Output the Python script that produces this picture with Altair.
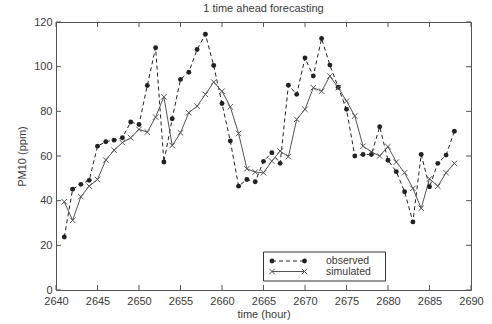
import altair as alt
import pandas as pd

hours = list(range(2641, 2689))
observed = [23.7, 45.1, 47.3, 49.1, 64.4, 66.4, 67.1, 68.2, 75.2, 74.1,
            91.6, 108.5, 57.3, 76.7, 94.3, 97.5, 107.7, 114.5, 100.5, 83.5,
            66.7, 46.5, 49.5, 48.5, 57.6, 61.5, 56.7, 91.7, 87.6, 103.9,
            95.8, 112.6, 100.7, 90.8, 80.9, 60.0, 60.7, 60.7, 73.1, 58.1,
            53.0, 44.0, 30.5, 60.7, 46.2, 56.7, 60.4, 71.1]
simulated = [39.5, 31.2, 41.8, 46.5, 49.5, 58.2, 62.6, 66.0, 68.2, 71.9,
             70.7, 77.4, 86.5, 64.7, 70.4, 79.4, 82.3, 87.6, 93.1, 89.0,
             82.0, 70.1, 54.3, 52.8, 52.5, 57.7, 62.2, 59.7, 76.4, 80.9,
             90.6, 89.0, 95.8, 90.6, 84.6, 77.9, 64.4, 61.8, 60.0, 64.2,
             57.3, 52.5, 45.5, 36.6, 49.8, 46.5, 52.5, 56.7]
x_ticks = list(range(2640, 2691, 5))
y_ticks = list(range(0, 121, 20))
legend_labels = ["observed", "simulated"]

W, H = 415, 268
FONT = "Liberation Sans"
TXT = "#3a3a3a"
OBS_C = "#222222"
SIM_C = "#555555"

df = pd.DataFrame({"hour": hours, "observed": observed, "simulated": simulated})
xs = alt.Scale(domain=[2640, 2690], nice=False, zero=False)
ys = alt.Scale(domain=[0, 120], nice=False)

xaxis = alt.Axis(values=x_ticks, tickSize=0, domain=False, grid=False,
                 labelPadding=5, title="time (hour)", titlePadding=2, format="d",
                 labelFlush=False)
yaxis = alt.Axis(values=y_ticks, tickSize=0, domain=False, grid=False,
                 labelPadding=4, title="PM10 (ppm)", titlePadding=6, format="d")

base = alt.Chart(df)
X = alt.X("hour:Q", scale=xs, axis=xaxis)

obs_line = base.mark_line(color=OBS_C, strokeDash=[4, 3], strokeWidth=1).encode(
    x=X, y=alt.Y("observed:Q", scale=ys, axis=yaxis))
obs_pts = base.mark_point(shape="circle", filled=True, size=24, color=OBS_C, opacity=1).encode(
    x=alt.X("hour:Q", scale=xs), y=alt.Y("observed:Q", scale=ys))
sim_line = base.mark_line(color=SIM_C, strokeWidth=1).encode(
    x=alt.X("hour:Q", scale=xs), y=alt.Y("simulated:Q", scale=ys))
XSHAPE = "M-1,-1L1,1M-1,1L1,-1"
sim_pts = base.mark_point(shape=XSHAPE, filled=False, size=30, color=SIM_C, strokeWidth=1, opacity=1).encode(
    x=alt.X("hour:Q", scale=xs), y=alt.Y("simulated:Q", scale=ys))

# inward ticks on all four sides
xt = alt.Chart(pd.DataFrame({"t": x_ticks}))
yt = alt.Chart(pd.DataFrame({"t": y_ticks}))
tick_style = dict(color="#555", strokeWidth=1)
xt_bot = xt.mark_rule(**tick_style).encode(x=alt.X("t:Q", scale=xs), y=alt.value(H), y2=alt.value(H - 5))
xt_top = xt.mark_rule(**tick_style).encode(x=alt.X("t:Q", scale=xs), y=alt.value(0), y2=alt.value(5))
yt_left = yt.mark_rule(**tick_style).encode(y=alt.Y("t:Q", scale=ys), x=alt.value(0), x2=alt.value(5))
yt_right = yt.mark_rule(**tick_style).encode(y=alt.Y("t:Q", scale=ys), x=alt.value(W), x2=alt.value(W - 5))

# legend
one = alt.Chart(pd.DataFrame({"a": [0]}))
lx0, lx1, ly0, ly1 = 207.5, 329.5, 230, 259
box = one.mark_rect(fill="white", stroke="#333", strokeWidth=1).encode(
    x=alt.value(lx0), x2=alt.value(lx1), y=alt.value(ly0), y2=alt.value(ly1))
rows = [239, 249.5]
sx0, sx1 = 216, 248.5
leg = []
obs_df = alt.Chart(pd.DataFrame({"label": [legend_labels[0]]}))
sim_df = alt.Chart(pd.DataFrame({"label": [legend_labels[1]]}))
leg.append(obs_df.mark_rule(color=OBS_C, strokeDash=[4, 3], strokeWidth=1).encode(
    x=alt.value(sx0), x2=alt.value(sx1), y=alt.value(rows[0])))
for sx in (sx0, sx1):
    leg.append(obs_df.mark_point(shape="circle", filled=True, size=24, color=OBS_C, opacity=1).encode(
        x=alt.value(sx), y=alt.value(rows[0])))
leg.append(sim_df.mark_rule(color=SIM_C, strokeWidth=1).encode(
    x=alt.value(sx0), x2=alt.value(sx1), y=alt.value(rows[1])))
for sx in (sx0, sx1):
    leg.append(sim_df.mark_point(shape=XSHAPE, filled=False, size=30, color=SIM_C, strokeWidth=1, opacity=1).encode(
        x=alt.value(sx), y=alt.value(rows[1])))
leg.append(obs_df.mark_text(align="left", baseline="middle", font=FONT, fontSize=10.5, color=TXT).encode(
    x=alt.value(270), y=alt.value(rows[0]), text="label:N"))
leg.append(sim_df.mark_text(align="left", baseline="middle", font=FONT, fontSize=10.5, color=TXT).encode(
    x=alt.value(270), y=alt.value(rows[1]), text="label:N"))

chart = alt.layer(
    obs_line, sim_line, obs_pts, sim_pts,
    xt_bot, xt_top, yt_left, yt_right,
    box, *leg
).properties(
    width=W, height=H,
    title=alt.TitleParams("1 time ahead forecasting", fontSize=11, fontWeight="normal",
                          color=TXT, font=FONT, offset=2, anchor="middle"),
    autosize=alt.AutoSizeParams(type="none"),
    padding={"left": 56, "top": 22, "right": 21, "bottom": 34},
    background="white",
).configure_view(
    stroke="#555", strokeWidth=1
).configure_axis(
    labelFont=FONT, labelFontSize=11, labelColor=TXT,
    titleFont=FONT, titleFontSize=11, titleColor=TXT, titleFontWeight="normal",
)

chart.save("out.html", embed_options={"renderer": "svg", "actions": False})
